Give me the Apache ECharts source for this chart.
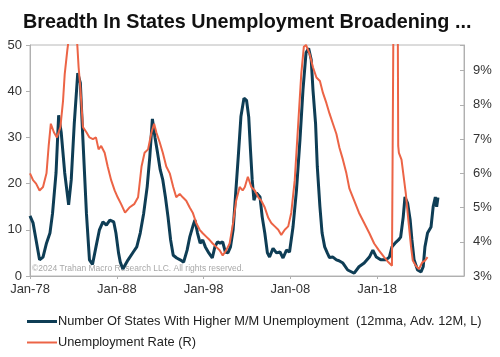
<!DOCTYPE html>
<html>
<head>
<meta charset="utf-8">
<script src="https://cdn.jsdelivr.net/npm/echarts@6/dist/echarts.min.js"></script>
<style>
html,body{margin:0;padding:0;background:#fff;}
#chart{width:500px;height:357px;}
</style>
</head>
<body>
<div id="chart"></div>
<script>
var titleText = 'Breadth In States Unemployment Broadening ...';
var blueName = 'Number Of States With Higher M/M Unemployment  (12mma, Adv. 12M, L)';
var redName = 'Unemployment Rate (R)';
var xTickYears = [1978, 1988, 1998, 2008, 2018, 2028];
var leftTicks = [0, 10, 20, 30, 40, 50];
var rightTicks = [3, 4, 5, 6, 7, 8, 9];

var blueYears = [1978.0,1978.35,1978.7,1979.1,1979.5,1979.9,1980.3,1980.6,1981.0,1981.3,1981.6,1982.0,1982.45,1982.75,1983.1,1983.5,1983.8,1984.1,1984.5,1984.85,1985.2,1985.6,1986.0,1986.4,1986.8,1987.2,1987.65,1987.9,1988.2,1988.4,1988.7,1989.3,1989.9,1990.3,1990.7,1991.1,1991.5,1991.8,1992.1,1992.4,1992.7,1993.0,1993.3,1993.6,1993.9,1994.2,1994.5,1994.9,1995.3,1995.7,1996.1,1996.4,1996.8,1997.0,1997.3,1997.6,1997.9,1998.2,1998.6,1999.0,1999.3,1999.6,1999.9,2000.2,2000.5,2000.8,2001.1,2001.4,2001.7,2002.0,2002.3,2002.65,2002.95,2003.2,2003.4,2003.6,2003.8,2004.1,2004.5,2004.75,2005.05,2005.35,2005.6,2006.0,2006.4,2006.8,2007.15,2007.55,2007.9,2008.3,2008.7,2009.1,2009.45,2009.8,2010.1,2010.4,2010.6,2010.9,2011.1,2011.4,2011.65,2011.95,2012.25,2012.5,2012.9,2013.3,2013.6,2014.05,2014.6,2015.35,2015.9,2016.5,2017.1,2017.5,2017.9,2018.4,2019.0,2019.4,2019.7,2020.05,2020.45,2020.7,2021.0,2021.2,2021.5,2021.8,2022.0,2022.25,2022.65,2023.05,2023.3,2023.5,2023.8,2024.2,2024.45,2024.7,2024.85,2025.0];
var blueValues = [13,11.5,7.8,3.5,4.1,7.1,9.3,13.6,22.3,34.8,31,22.3,15.4,20.8,33,43.9,41.8,29.4,13.6,3.5,2.5,6.3,10,11.7,11,12.1,11.7,9.3,5,3,1.5,3.5,5.2,6.3,9.3,13.6,19.3,25.8,34,30,26.6,23,20.8,17.1,12.8,7.8,4.5,3.9,3.5,3.0,5.6,8.4,11,12.1,9.3,7.1,7.8,6.3,5,3.9,6.3,7.4,7.1,7.4,5.2,5,6.3,10,18,26,34.5,38.5,38,34.4,27.3,20.8,16.4,18,17.1,12.8,9.3,5,4.1,6,5,5.2,3.9,5.6,5.2,10.6,18.6,29.4,40.3,48.3,49.3,46.8,40.3,33,23.6,15,9.3,6.3,5,4,4.1,3.5,3.3,2.8,1.3,0.6,2,2.8,4.1,5.6,4.1,3.5,3.5,4.1,6.3,7.1,7.8,8.4,12.8,17.1,15.8,12.1,7.8,3.5,1.3,0.9,2,6.3,9.3,10.6,15,17.1,15,17];

var redYears = [1978.0,1978.35,1978.7,1979.1,1979.5,1979.9,1980.15,1980.4,1980.75,1981.1,1981.5,1981.8,1982.0,1982.3,1982.6,1982.9,1983.2,1983.45,1983.6,1983.8,1984.1,1984.5,1984.85,1985.25,1985.6,1985.9,1986.2,1986.6,1986.95,1987.35,1987.75,1988.1,1988.5,1988.95,1989.45,1990.0,1990.45,1990.85,1991.2,1991.6,1992.0,1992.3,1992.55,1992.95,1993.3,1993.7,1994.1,1994.5,1994.85,1995.25,1995.6,1996.0,1996.4,1996.75,1997.15,1997.55,1997.9,1998.3,1998.7,1999.05,1999.45,1999.85,2000.2,2000.6,2001.0,2001.4,2001.75,2002.15,2002.5,2002.75,2003.1,2003.5,2003.9,2004.3,2004.65,2005.05,2005.45,2005.8,2006.2,2006.6,2006.95,2007.35,2007.75,2008.1,2008.5,2008.9,2009.25,2009.55,2009.8,2010.2,2010.6,2011.0,2011.4,2011.75,2012.15,2012.5,2012.9,2013.3,2013.65,2014.05,2014.45,2014.8,2015.35,2015.9,2016.5,2017.1,2017.65,2018.2,2018.8,2019.3,2019.7,2019.9,2019.97,2020.35,2020.42,2020.5,2020.8,2021.1,2021.3,2021.6,2021.9,2022.1,2022.45,2022.8,2023.2,2023.5,2023.8];
var redValues = [6.0,5.8,5.7,5.5,5.6,6.0,6.8,7.45,7.2,7.05,7.35,8.1,8.9,9.6,10.2,10.8,10.3,9.75,9.1,8.5,7.35,7.2,7.05,7.0,7.05,6.7,6.8,6.6,6.2,5.8,5.5,5.3,5.1,4.85,5.0,5.1,5.3,6.2,6.6,6.7,7.2,7.45,7.2,6.9,6.6,6.2,6.0,5.6,5.3,5.4,5.3,5.2,5.0,4.85,4.55,4.35,4.25,4.15,4.05,3.95,3.85,3.75,3.6,3.75,3.95,4.55,5.2,5.6,5.5,5.6,5.9,5.6,5.5,5.3,5.2,5.0,4.7,4.55,4.45,4.35,4.2,4.35,4.45,4.85,5.8,7.45,8.9,9.7,9.75,9.5,9.1,8.8,8.7,8.35,8.05,7.75,7.45,7.15,6.75,6.4,6.0,5.55,5.2,4.85,4.55,4.25,3.95,3.75,3.55,3.4,3.3,3.3,14.7,12,6.8,6.6,6.4,5.8,5.4,4.6,3.85,3.45,3.3,3.2,3.4,3.45,3.55];

function pairs(xs, ys) { return xs.map(function (x, i) { return [x, ys[i]]; }); }

var FONT = '"Liberation Sans", Arial, sans-serif';
var chart = echarts.init(document.getElementById('chart'), null, {renderer: 'canvas'});
chart.setOption({
  animation: false,
  backgroundColor: '#fff',
  title: {
    text: titleText, left: 18, top: 8,
    textStyle: {fontFamily: FONT, fontSize: 19.8, fontWeight: 'bold', color: '#111'}
  },
  legend: {
    orient: 'vertical', left: 22, top: 310, itemGap: 8,
    itemWidth: 30, itemHeight: 14,
    textStyle: {fontFamily: FONT, fontSize: 12.8, color: '#222', padding: [0, 0, 0, -4]},
    data: [
      {name: blueName, icon: 'path://M0,0 L30,0 L30,3 L0,3 Z'},
      {name: redName, icon: 'path://M0,0 L30,0 L30,2 L0,2 Z'}
    ]
  },
  grid: {left: 30, right: 36, top: 45, bottom: 81, show: true, borderColor: '#b8b8b8', borderWidth: 1},
  xAxis: {
    type: 'value', min: xTickYears[0], max: xTickYears[xTickYears.length - 1], interval: 10,
    axisLine: {lineStyle: {color: '#b0b0b0'}},
    axisTick: {show: true, length: 3, lineStyle: {color: '#b0b0b0'}},
    splitLine: {show: false},
    axisLabel: {
      fontFamily: FONT, fontSize: 13, color: '#333', margin: 7, showMaxLabel: false,
      formatter: function (v) { return xTickYears.indexOf(v) >= 0 ? 'Jan-' + String(v).slice(2) : ''; }
    }
  },
  yAxis: [{
    type: 'value', min: leftTicks[0], max: leftTicks[leftTicks.length - 1], interval: 10,
    axisLine: {show: true, lineStyle: {color: '#b0b0b0'}},
    axisTick: {show: true, length: 4, lineStyle: {color: '#b0b0b0'}},
    splitLine: {show: false},
    axisLabel: {fontFamily: FONT, fontSize: 13, color: '#333', margin: 8}
  }, {
    type: 'value', min: rightTicks[0], max: 9.75, interval: 1, position: 'right',
    axisLine: {show: true, lineStyle: {color: '#b0b0b0'}},
    axisTick: {show: true, inside: true, length: 4, lineStyle: {color: '#b0b0b0'}},
    splitLine: {show: false},
    axisLabel: {
      fontFamily: FONT, fontSize: 13, color: '#333', margin: 9,
      formatter: function (v) { return rightTicks.indexOf(v) >= 0 ? v + '%' : ''; }
    }
  }],
  graphic: [{
    type: 'text', left: 32, top: 264, z: 1,
    style: {text: '\u00a92024 Trahan Macro Research LLC. All rights reserved.', font: '8.5px ' + FONT, fill: '#a8a8a8'}
  }],
  series: [{
    name: blueName, type: 'line', yAxisIndex: 0, showSymbol: false, clip: true,
    lineStyle: {color: '#0e3d55', width: 3}, itemStyle: {color: '#0e3d55'},
    data: pairs(blueYears, blueValues), z: 3
  }, {
    name: redName, type: 'line', yAxisIndex: 1, showSymbol: false, clip: true,
    lineStyle: {color: '#ec6446', width: 2}, itemStyle: {color: '#ec6446'},
    data: pairs(redYears, redValues), z: 4
  }]
});
</script>
</body>
</html>
